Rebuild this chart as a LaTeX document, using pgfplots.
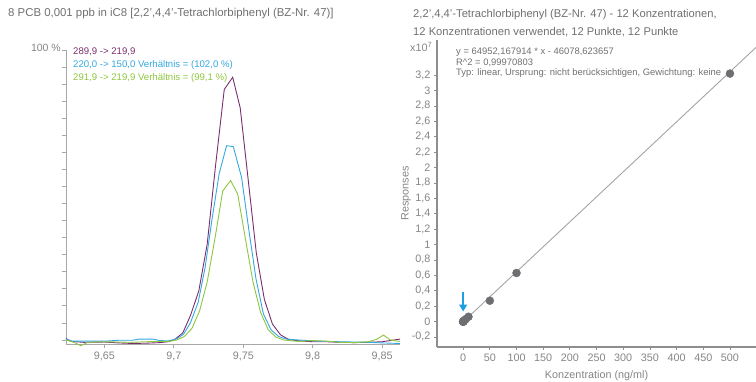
\documentclass[border=0pt]{standalone}
\usepackage{fontspec}
\setmainfont{Liberation Sans}
\usepackage{pgfplots}
\pgfplotsset{compat=1.18}
\usetikzlibrary{arrows.meta}
\definecolor{cpurple}{HTML}{7B2D6E}
\definecolor{cblue}{HTML}{33A8E0}
\definecolor{cgreen}{HTML}{8DC63F}
\definecolor{ctext}{HTML}{707070}
\definecolor{clabel}{HTML}{858585}
\definecolor{caxis}{HTML}{A8A8A8}
\definecolor{caxis2}{HTML}{8E8E8E}
\definecolor{cpoint}{HTML}{6D6E71}
\definecolor{cline}{HTML}{A3A3A3}
\definecolor{carrow}{HTML}{1E9FE3}
\begin{document}
\begin{tikzpicture}[x=1pt,y=1pt]
\useasboundingbox (0,0) rectangle (756,381);
% ---------- left: chromatogram ----------
\begin{axis}[
  at={(66pt,37pt)}, anchor=south west,
  scale only axis, width=334pt, height=294pt,
  xmin=9.6223, xmax=9.8629, ymin=-1.38, ymax=100,
  axis x line*=bottom, axis y line*=left,
  axis line style={caxis, line width=0.9pt},
  tick align=outside, major tick length=4pt,
  tick style={caxis, line width=0.8pt},
  xtick={9.65,9.7,9.75,9.8,9.85},
  xticklabels={{9,65},{9,7},{9,75},{9,8},{9,85}},
  ytick={0,5.88235,11.7647,17.6471,23.5294,29.4118,35.2941,41.1765,47.0588,52.9412,58.8235,64.7059,70.5882,76.4706,82.3529,88.2353,94.1176,100},
  yticklabels={},
  x tick label style={font=\fontsize{10.8}{12}\selectfont, text=clabel},
  clip=false,
]
\addplot[cpurple, line width=0.9pt] coordinates {
(9.6223,0.5) (9.6260,-0.5) (9.6350,-0.8) (9.6500,-0.7) (9.6600,-1.0) (9.6700,-1.2) (9.6800,-1.1) (9.6900,-0.9)
(9.6960,-0.6) (9.7010,0.3) (9.7065,2.5) (9.7120,8.5) (9.7180,17) (9.7240,33) (9.7300,60) (9.7363,86.4)
(9.7424,90.6) (9.7478,80) (9.7536,55) (9.7594,30) (9.7652,14) (9.7710,5.5) (9.7768,1.8) (9.7826,0.2)
(9.7900,-0.3) (9.8000,-0.6) (9.8100,-0.6) (9.8200,-0.8) (9.8300,-0.9) (9.8400,-0.8) (9.8500,-0.6) (9.8629,0.3)};
\addplot[cblue, line width=0.9pt] coordinates {
(9.6223,0.3) (9.6270,-0.4) (9.6400,-0.4) (9.6500,-0.4) (9.6600,-0.1) (9.6700,-0.1) (9.6750,0.3) (9.6850,0.3) (9.6900,-0.2)
(9.6960,-0.3) (9.7020,0.4) (9.7070,2) (9.7120,6) (9.7175,13) (9.7225,25) (9.7276,42) (9.7327,57.5)
(9.7380,67) (9.7428,66.7) (9.7488,56) (9.7540,38) (9.7592,21) (9.7645,9) (9.7700,3.5) (9.7755,1.2) (9.7810,0.3)
(9.7900,0) (9.8000,-0.3) (9.8100,-0.5) (9.8200,-0.6) (9.8300,-0.7) (9.8400,-0.8) (9.8500,-1.0) (9.8629,-1.2)};
\addplot[cgreen, line width=0.9pt] coordinates {
(9.6223,0.0) (9.6280,-0.8) (9.6330,-2.0) (9.6380,-0.8) (9.6500,-0.6) (9.6600,-0.7) (9.6700,-0.8) (9.6800,-0.6) (9.6900,-0.5)
(9.6960,-0.5) (9.7020,0.0) (9.7075,1.2) (9.7130,4) (9.7185,10) (9.7240,20) (9.7296,35) (9.7352,51.4)
(9.7409,55) (9.7460,50.3) (9.7515,35) (9.7570,20) (9.7625,9.5) (9.7680,3.5) (9.7735,1) (9.7790,0)
(9.7900,-0.5) (9.8000,-0.2) (9.8100,-0.4) (9.8200,-0.8) (9.8300,-0.9) (9.8400,-0.6) (9.8460,0.2) (9.8510,1.7) (9.8560,0.0) (9.8629,-0.5)};
\end{axis}
% ---------- right: calibration ----------
\begin{axis}[
  at={(437pt,34pt)}, anchor=south west,
  scale only axis, width=319pt, height=307pt,
  xmin=-49, xmax=548.8, ymin=-0.331, ymax=3.656,
  axis x line*=bottom, axis y line*=left,
  axis line style={caxis2, line width=1.7pt},
  tick align=outside, major tick length=3pt,
  tick style={caxis2, line width=0.8pt},
  xtick={0,50,...,500},
  xticklabels={0,50,100,150,200,250,300,350,400,450,500},
  ytick={-0.2,0,0.2,0.4,0.6,0.8,1,1.2,1.4,1.6,1.8,2,2.2,2.4,2.6,2.8,3,3.2},
  yticklabels={{-0,2},{0},{0,2},{0,4},{0,6},{0,8},{1},{1,2},{1,4},{1,6},{1,8},{2},{2,2},{2,4},{2,6},{2,8},{3},{3,2}},
  tick label style={font=\fontsize{10.8}{12}\selectfont, text=clabel},
  xlabel={Konzentration (ng/ml)},
  ylabel={Responses},
  label style={font=\fontsize{10.8}{12}\selectfont, text=clabel},
  xlabel style={at={(axis description cs:0.5,-0.095)}, anchor=center},
  ylabel style={at={(axis description cs:-0.097,0.5)}, anchor=center, rotate=0},
]
\addplot[cline, line width=0.9pt] coordinates {(0,-0.0046) (548.8,3.5599)};
\addplot[only marks, mark=*, mark size=4pt, color=cpoint] coordinates {
(0.001,0.000) (0.01,-0.004) (0.05,-0.002) (0.1,0.000) (0.5,0.003) (1,0.006) (2,0.012) (5,0.031) (10,0.062)
(50,0.270) (100,0.630) (500,3.220)};
\draw[carrow, line width=1.4pt, -{Triangle[width=8pt,length=7pt]}] (axis cs:0,0.38) -- (axis cs:0,0.13);
\end{axis}
% ---------- texts ----------
\node[anchor=west, inner sep=0, text=ctext, font=\fontsize{11.4}{13}\selectfont] at (8,367) {8 PCB 0,001 ppb in iC8 [2,2’,4,4’-Tetrachlorbiphenyl (BZ-Nr. 47)]};
\node[anchor=west, inner sep=0, text=ctext, font=\fontsize{11.2}{13}\selectfont] at (413,366.5) {2,2’,4,4’-Tetrachlorbiphenyl (BZ-Nr. 47) - 12 Konzentrationen,};
\node[anchor=west, inner sep=0, text=ctext, font=\fontsize{11.2}{13}\selectfont] at (413,348.5) {12 Konzentrationen verwendet, 12 Punkte, 12 Punkte};
\node[anchor=east, inner sep=0, text=clabel, font=\fontsize{10.5}{12}\selectfont] at (61,333) {100 \%};
\node[anchor=west, inner sep=0, text=cpurple, font=\fontsize{9.6}{11}\selectfont] at (73,329) {289,9 -> 219,9};
\node[anchor=west, inner sep=0, text=cblue, font=\fontsize{9.6}{11}\selectfont] at (73,316) {220,0 -> 150,0 Verhältnis = (102,0 \%)};
\node[anchor=west, inner sep=0, text=cgreen, font=\fontsize{9.6}{11}\selectfont] at (73,303) {291,9 -> 219,9 Verhältnis = (99,1 \%)};
\node[anchor=west, inner sep=0, text=ctext, font=\fontsize{9.4}{10}\selectfont] at (456,329) {y = 64952,167914 * x - 46078,623657};
\node[anchor=west, inner sep=0, text=ctext, font=\fontsize{9.4}{10}\selectfont] at (456,318.5) {R\textasciicircum 2 = 0,99970803};
\node[anchor=west, inner sep=0, text=ctext, font=\fontsize{9.4}{10}\selectfont] at (456,308) {Typ: linear, Ursprung: nicht berücksichtigen, Gewichtung: keine};
\node[anchor=west, inner sep=0, text=clabel, font=\fontsize{10.8}{12}\selectfont] at (410,334) {x10\textsuperscript{7}};
\end{tikzpicture}
\end{document}
